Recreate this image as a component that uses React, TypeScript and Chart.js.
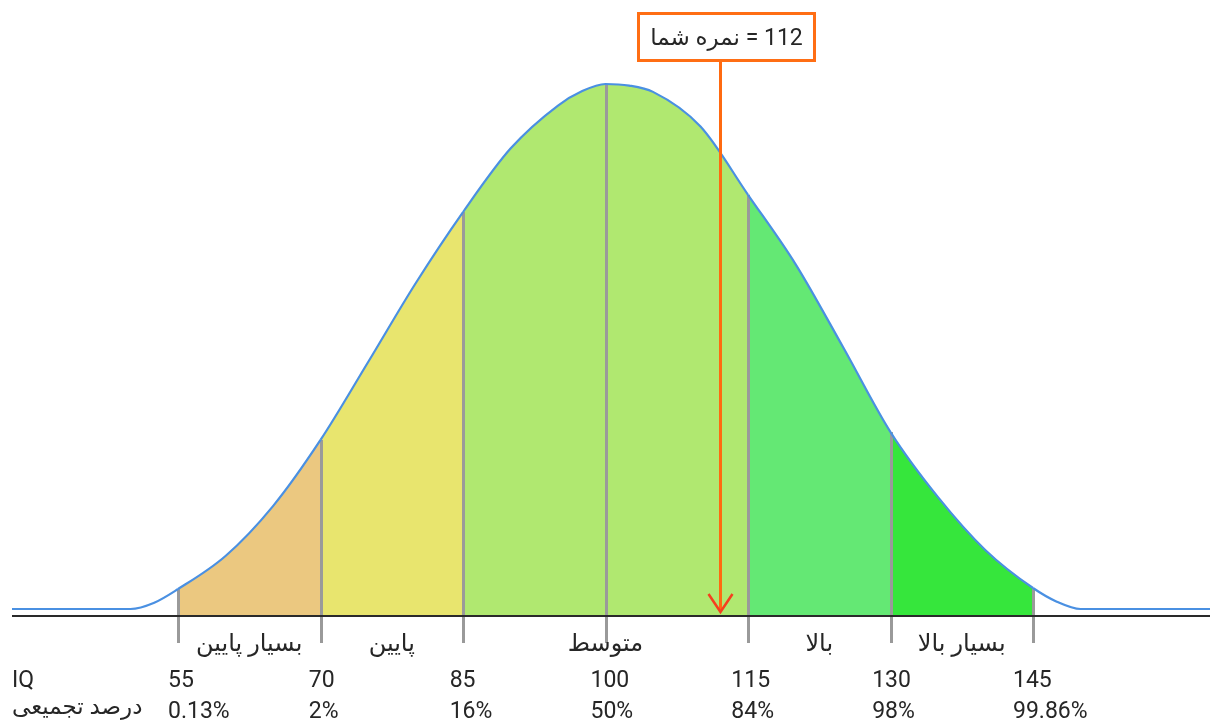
import React, { useEffect, useRef } from "react";
import { Chart, registerables } from "chart.js";

Chart.register(...registerables);

// ---- data ----
const curveIQ = [35, 50, 52.5, 55, 60, 65, 70, 75, 80, 85, 90, 95, 97.5, 100, 102.5, 105, 110, 115, 120, 125, 130, 135, 140, 145, 147.5, 150, 165];
const curveHeight = [0, 0, 1.2, 3.8, 10.1, 19.6, 32.2, 47.0, 62.0, 75.6, 87.7, 95.9, 98.6, 100, 99.7, 98.5, 91.9, 78.9, 65.7, 49.9, 33.7, 21.3, 11.2, 4.0, 1.4, 0, 0];

const tickIQ = [55, 70, 85, 100, 115, 130, 145];
const tickLabels = ["55", "70", "85", "100", "115", "130", "145"];
const cumulativePercent = ["0.13%", "2%", "16%", "50%", "84%", "98%", "99.86%"];

const bandStart = [55, 70, 85, 115, 130];
const bandEnd = [70, 85, 115, 130, 145];
const bandLabels = ["بسیار پایین", "پایین", "متوسط", "بالا", "بسیار بالا"];
const bandColors = ["#EBC880", "#E8E56E", "#B0E870", "#64E874", "#36E63C"];

const yourScore = 112;
const scoreText = "نمره شما";
const rowLabelIQ = "IQ";
const rowLabelPercent = "درصد تجمیعی";

const FONT = "Roboto, 'DejaVu Sans', sans-serif";
const TEXT = "#262626";

function bandColorAt(x: number): string {
  for (let i = 0; i < bandStart.length; i++) {
    if (x >= bandStart[i] && x < bandEnd[i]) return bandColors[i];
  }
  return "rgba(0,0,0,0)";
}

const decor = {
  id: "decor",
  beforeDatasetsDraw(chart: any) {
    const { ctx, chartArea, scales } = chart;
    const xs = scales.x;
    const ys = scales.y;
    ctx.save();
    ctx.strokeStyle = "#9a9a9a";
    ctx.lineWidth = 3;
    tickIQ.forEach((iq) => {
      const idx = curveIQ.indexOf(iq);
      const px = Math.round(xs.getPixelForValue(iq)) + 0.5;
      const top = ys.getPixelForValue(curveHeight[idx]);
      ctx.beginPath();
      ctx.moveTo(px, top);
      ctx.lineTo(px, chartArea.bottom + 28);
      ctx.stroke();
    });
    ctx.restore();
  },
  afterDraw(chart: any) {
    const { ctx, chartArea, scales } = chart;
    const xs = scales.x;
    const xl = scales.xl;
    const b = chartArea.bottom;
    ctx.save();

    // axis base line
    ctx.strokeStyle = "#2a2a2a";
    ctx.lineWidth = 2;
    ctx.beginPath();
    ctx.moveTo(chartArea.left, b + 1);
    ctx.lineTo(chartArea.right, b + 1);
    ctx.stroke();

    // band labels
    ctx.fillStyle = TEXT;
    ctx.font = `24px ${FONT}`;
    ctx.textAlign = "center";
    ctx.textBaseline = "alphabetic";
    bandLabels.forEach((lab, i) => {
      const cx = (xs.getPixelForValue(bandStart[i]) + xs.getPixelForValue(bandEnd[i])) / 2;
      ctx.fillText(lab, cx, b + 36);
    });

    // IQ and percent rows
    ctx.font = `23px ${FONT}`;
    ctx.textAlign = "left";
    tickIQ.forEach((iq, i) => {
      const lx = xl.getPixelForValue(iq);
      ctx.fillText(tickLabels[i], lx, b + 72);
      ctx.fillText(cumulativePercent[i], lx, b + 103);
    });
    ctx.fillText(rowLabelIQ, 12, b + 72);
    ctx.font = `23px ${FONT}`;
    ctx.fillText(rowLabelPercent, 12, b + 99);

    // score arrow
    const ax = Math.round(xs.getPixelForValue(yourScore)) + 0.5;
    ctx.strokeStyle = "#FF6A10";
    ctx.lineWidth = 3;
    ctx.beginPath();
    ctx.moveTo(ax, 62);
    ctx.lineTo(ax, b - 3);
    ctx.stroke();
    ctx.strokeStyle = "#F5401E";
    ctx.lineWidth = 2.5;
    ctx.lineJoin = "miter";
    ctx.beginPath();
    ctx.moveTo(ax - 12, b - 21);
    ctx.lineTo(ax, b - 3);
    ctx.lineTo(ax + 12, b - 21);
    ctx.stroke();

    // score box
    const label = `${yourScore} = ${scoreText}`;
    ctx.font = `23px ${FONT}`;
    const tw = ctx.measureText(label).width;
    const w = Math.max(179, tw + 26);
    const cx = ax + 6;
    ctx.fillStyle = "#ffffff";
    ctx.fillRect(cx - w / 2, 12, w, 50);
    ctx.strokeStyle = "#FF6E14";
    ctx.lineWidth = 3;
    ctx.strokeRect(cx - w / 2 + 1.5, 13.5, w - 3, 47);
    ctx.fillStyle = TEXT;
    ctx.direction = "rtl";
    ctx.textAlign = "center";
    ctx.fillText(label, cx, 45);
    ctx.restore();
  },
};

export default function App() {
  const ref = useRef<HTMLCanvasElement | null>(null);
  useEffect(() => {
    if (!ref.current) return;
    const chart = new Chart(ref.current, {
      type: "line",
      data: {
        datasets: [
          {
            data: curveIQ.map((x, i) => ({ x, y: curveHeight[i] })),
            borderColor: "#4A90E2",
            borderWidth: 2.2,
            pointRadius: 0,
            fill: "start",
            backgroundColor: "rgba(0,0,0,0)",
            cubicInterpolationMode: "monotone",
            segment: {
              backgroundColor: (c: any) => bandColorAt(curveIQ[c.p0DataIndex]),
            },
          } as any,
        ],
      },
      options: {
        responsive: false,
        animation: false,
        devicePixelRatio: 1,
        layout: { padding: { left: 12, right: 0, top: 0, bottom: 105 } },
        scales: {
          x: { type: "linear", display: false, min: 37.526, max: 163.63 },
          xl: { type: "linear", axis: "x", display: false, min: 38.385, max: 165.98 } as any,
          y: { type: "linear", display: false, min: -1.143, max: 116 },
        },
        plugins: {
          legend: { display: false },
          tooltip: { enabled: false },
          filler: { drawTime: "beforeDatasetsDraw" } as any,
        },
      },
      plugins: [decor],
    });
    return () => chart.destroy();
  }, []);
  return (
    <div style={{ position: "absolute", left: 0, top: 0, width: 1210, height: 720, background: "#fff" }}>
      <canvas ref={ref} width={1210} height={720} style={{ display: "block", width: 1210, height: 720 }} />
    </div>
  );
}
